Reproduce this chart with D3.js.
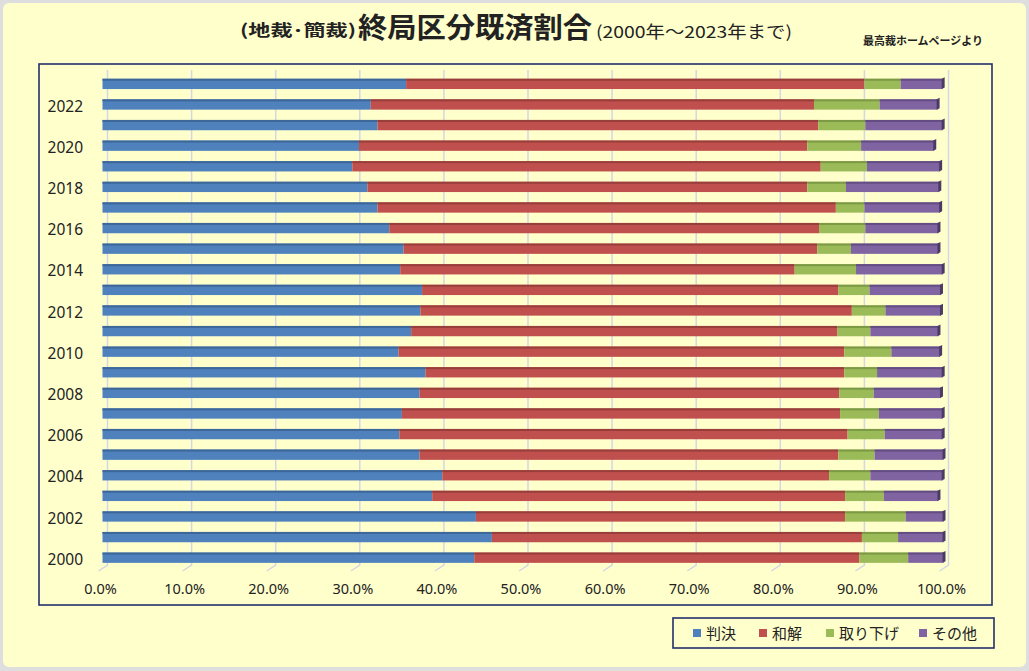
<!DOCTYPE html>
<html><head><meta charset="utf-8">
<script src="https://cdn.jsdelivr.net/npm/d3@7/dist/d3.min.js"></script>
<style>
html,body{margin:0;padding:0;background:#dedede;}
svg{display:block;}
text{font-family:"Noto Sans CJK JP","Noto Sans",sans-serif;fill:#222;}
</style></head>
<body>
<svg id="chart" width="1029" height="671"></svg>
<script>
// ---- data ----
const years = ["2000","2001","2002","2003","2004","2005","2006","2007","2008","2009","2010","2011",
               "2012","2013","2014","2015","2016","2017","2018","2019","2020","2021","2022","2023"];
const seriesNames = ["判決","和解","取り下げ","その他"];
const hanketsu = [44.2,46.3,44.4,39.2,40.4,37.7,35.3,35.6,37.7,38.4,35.2,36.7,37.8,38.0,35.4,35.8,34.1,32.7,31.5,29.7,30.5,32.7,31.9,36.1];
const wakai    = [45.8,44.0,43.9,49.1,46.0,49.8,53.3,52.1,49.9,49.8,53.0,50.7,51.3,49.5,46.9,49.2,51.1,54.5,52.3,55.7,53.3,52.4,52.7,54.5];
const torisage = [5.8,4.3,7.2,4.6,4.9,4.3,4.4,4.6,4.1,3.9,5.6,3.9,4.0,3.7,7.3,4.0,5.5,3.4,4.6,5.5,6.4,5.6,7.8,4.3];
const sonota   = [4.2,5.4,4.5,6.5,8.6,8.2,6.9,7.6,8.0,7.8,5.8,8.1,6.6,8.5,10.3,10.4,8.7,9.0,11.1,8.7,8.7,9.2,6.9,5.0];
const xTicks = [0,10,20,30,40,50,60,70,80,90,100];
const yLabelYears = ["2000","2002","2004","2006","2008","2010","2012","2014","2016","2018","2020","2022"];

const colors = ["#4F81BD","#C0504D","#9BBB59","#8064A2"];
const topColors = ["#3D6799","#983E3B","#7C9945","#634D83"];

const svg = d3.select("#chart");

// background panel
svg.append("rect").attr("x",3).attr("y",3).attr("width",1023).attr("height",664)
  .attr("rx",6).attr("fill","#FFFFCC");

// plot frame
svg.append("rect").attr("x",39).attr("y",64).attr("width",953).attr("height",541)
  .attr("fill","#FFFFCC").attr("stroke","#22306A").attr("stroke-width",1.6);

const x = d3.scaleLinear().domain([0,100]).range([102.5,943.5]);
const y = d3.scaleBand().domain(years).range([568,73.6]).paddingInner(0.5).paddingOuter(0.25);

// gridlines (back wall, offset for 3D look)
const gOff = 5;
const grid = svg.append("g");
xTicks.forEach(t=>{
  const gx = x(t)+gOff;
  grid.append("path")
    .attr("d",`M${gx},70 L${gx},565 L${gx-9},571`)
    .attr("fill","none").attr("stroke","#D4D6E2").attr("stroke-width",1.5);
});

// stacked data
const rows = years.map((yr,i)=>({year:yr, "判決":hanketsu[i], "和解":wakai[i], "取り下げ":torisage[i], "その他":sonota[i]}));
const stacked = d3.stack().keys(seriesNames)(rows);

const bh = y.bandwidth();
stacked.forEach((layer,si)=>{
  const g = svg.append("g");
  g.selectAll("rect.front").data(layer).join("rect")
    .attr("x",d=>x(d[0])).attr("y",d=>y(d.data.year))
    .attr("width",d=>x(d[1])-x(d[0])).attr("height",bh)
    .attr("fill",colors[si]);
  g.selectAll("rect.top").data(layer).join("rect")
    .attr("x",d=>x(d[0])).attr("y",d=>y(d.data.year))
    .attr("width",d=>x(d[1])-x(d[0])).attr("height",2)
    .attr("fill",topColors[si]);
  if(si===seriesNames.length-1){
    g.selectAll("path.cap").data(layer).join("path")
      .attr("d",d=>{const xe=x(d[1]), yt=y(d.data.year);
        return `M${xe-1},${yt+bh} L${xe-1},${yt} L${xe+2},${yt-1.5} L${xe+2},${yt+bh-1.5} Z`;})
      .attr("fill","#4B3A66");
  }
});

// y labels
svg.append("g").selectAll("text").data(yLabelYears).join("text")
  .attr("x",83).attr("y",d=>y(d)+bh/2+7)
  .attr("text-anchor","end").attr("font-size",15.5)
  .style("font-family","'Noto Sans',sans-serif")
  .text(d=>d);

// x axis labels
const xAxis = d3.axisBottom(x).tickValues(xTicks).tickSize(0).tickFormat(d=>d3.format(".1f")(d)+"%");
const ax = svg.append("g").attr("transform","translate(-2.5,581)").call(xAxis);
ax.select(".domain").remove();
ax.selectAll("text").attr("font-size",14.5).attr("fill","#222")
  .style("font-family","'Noto Sans',sans-serif");

// title
svg.append("text").attr("x",240).attr("y",36).attr("font-size",16).attr("font-weight","bold")
  .attr("textLength",116).attr("lengthAdjust","spacingAndGlyphs").text("(地裁･簡裁)");
svg.append("text").attr("x",358).attr("y",38).attr("font-size",28).attr("font-weight","bold")
  .attr("textLength",234).attr("lengthAdjust","spacingAndGlyphs").text("終局区分既済割合");
svg.append("text").attr("x",596).attr("y",38).attr("font-size",16.5)
  .attr("textLength",196).attr("lengthAdjust","spacingAndGlyphs").text("(2000年～2023年まで)");
svg.append("text").attr("x",863).attr("y",45).attr("font-size",11).attr("font-weight","bold")
  .attr("textLength",120).attr("lengthAdjust","spacingAndGlyphs").attr("fill","#444").text("最高裁ホームページより");

// legend
const lg = svg.append("g");
lg.append("rect").attr("x",673).attr("y",618).attr("width",321).attr("height",30)
  .attr("fill","#FFFFCC").attr("stroke","#22306A").attr("stroke-width",1.6);
const legX = [693,759,826,919];
seriesNames.forEach((n,i)=>{
  lg.append("rect").attr("x",legX[i]).attr("y",629).attr("width",8).attr("height",8).attr("fill",colors[i]);
  lg.append("text").attr("x",legX[i]+13).attr("y",638.5).attr("font-size",15).text(n);
});
</script>
</body></html>
